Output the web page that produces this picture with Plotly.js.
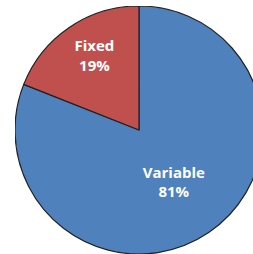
<!DOCTYPE html>
<html><head><meta charset="utf-8">
<script src="https://cdn.plot.ly/plotly-3.0.1.min.js"></script>
<style>html,body{margin:0;padding:0;overflow:hidden;background:#fff;width:253px;height:254px;}
#chart{position:absolute;left:15px;top:6px;width:248px;height:248px;}</style>
</head><body><div id="chart"></div>
<script>
const labels = ['Variable', 'Fixed'];
const values = [81, 19];
const colors = ['#4F81BD', '#C0504D'];
Plotly.newPlot('chart', [{
  type: 'pie', labels: labels, values: values, sort: false,
  direction: 'clockwise', rotation: 0,
  marker: {colors: colors, line: {color: '#222', width: 1.2}},
  textinfo: 'label+percent', textposition: 'inside', insidetextorientation: 'horizontal',
  texttemplate: ['<b>%{label}</b><br><b>%{percent:.0%}</b>',
                 '<b>%{label}</b><br><b>%{percent:.0%}</b><br><span style="font-size:9px"> </span>'],
  textfont: {family: 'Open Sans, sans-serif', size: 15, color: '#fff'},
  hoverinfo: 'none'
}], {
  width: 248, height: 248, margin: {l:0, r:0, t:0, b:0}, showlegend: false,
  paper_bgcolor: 'rgba(0,0,0,0)'
}, {staticPlot: true});
</script></body></html>
